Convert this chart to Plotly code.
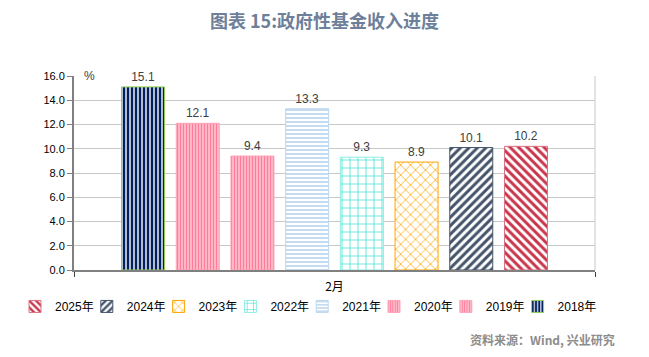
import plotly.graph_objects as go

categories = ["2月"]
years = ["2018年", "2019年", "2020年", "2021年", "2022年", "2023年", "2024年", "2025年"]
values = [15.1, 12.1, 9.4, 13.3, 9.3, 8.9, 10.1, 10.2]
y_ticks = [0, 2, 4, 6, 8, 10, 12, 14, 16]
y_tick_labels = ["0.0", "2.0", "4.0", "6.0", "8.0", "10.0", "12.0", "14.0", "16.0"]

styles = {
    "2018年": dict(fg="#002060", line="#92D050", shape="|", size=4, sol=0.65),
    "2019年": dict(fg="#FF7C99", line="#FFA3B7", shape="|", size=3, sol=0.7),
    "2020年": dict(fg="#FF7C99", line="#FFA3B7", shape="|", size=3, sol=0.7),
    "2021年": dict(fg="#9DC3E6", line="#BDD7EE", shape="-", size=4, sol=0.3),
    "2022年": dict(fg="#40E0D0", line="#8FEDE3", shape="+", size=8, sol=0.18),
    "2023年": dict(fg="#FFA500", line="#FFA500", shape="x", size=7, sol=0.2),
    "2024年": dict(fg="#44546A", line="#44546A", shape="/", size=6, sol=0.5),
    "2025年": dict(fg="#C9364C", line="#D9707F", shape="\\", size=6, sol=0.5),
}

# legend order as in the reference (left to right)
legend_order = list(reversed(years))
legend_ids = {}
for i, yr in enumerate(legend_order):
    legend_ids[yr] = "legend" if i == 0 else f"legend{i + 1}"

fig = go.Figure()
for yr, v in zip(years, values):
    s = styles[yr]
    fig.add_trace(go.Bar(
        x=categories, y=[v], name=yr, legend=legend_ids[yr],
        marker=dict(
            color="white",
            line=dict(color=s["line"], width=1),
            pattern=dict(shape=s["shape"], fgcolor=s["fg"], bgcolor="white",
                         size=s["size"], solidity=s["sol"], fillmode="replace"),
        ),
        text=[f"{v:.1f}"], textposition="outside",
        textfont=dict(size=12, color="#404040", family="Liberation Sans"),
        cliponaxis=False,
    ))

plot_left, plot_w = 74, 521
legend_layout = {}
for i, yr in enumerate(legend_order):
    text_x = 54 + 71.8 * i
    legend_layout[legend_ids[yr]] = dict(
        orientation="h", x=(text_x - 39 - plot_left) / plot_w, xanchor="left",
        y=-0.113, yanchor="top",
        font=dict(size=12, family="Liberation Sans, Noto Sans CJK SC", color="#000000"),
        bgcolor="rgba(0,0,0,0)",
    )

fig.update_layout(
    width=649, height=357,
    margin=dict(l=74, r=54, t=76, b=87, autoexpand=False),
    paper_bgcolor="white", plot_bgcolor="white",
    barmode="group", bargap=0.16, bargroupgap=0.214,
    font=dict(family="Liberation Sans, Noto Sans CJK SC", color="#000000"),
    title=dict(text="<b>图表 15:政府性基金收入进度</b>", x=0.5, xanchor="center",
               y=0.94, yanchor="middle",
               font=dict(size=18, color="#6E7F99", family="Noto Sans CJK SC")),
    showlegend=True,
    xaxis=dict(
        showgrid=False, showline=True, linecolor="#808080", linewidth=2,
        ticks="outside", tickson="boundaries", ticklen=5, tickcolor="#404040",
        ticklabelstandoff=5,
        tickfont=dict(size=12, family="Noto Sans CJK SC", color="#000000"),
    ),
    yaxis=dict(
        range=[0, 16], tickvals=y_ticks, ticktext=y_tick_labels,
        showgrid=True, gridcolor="#C8C8C8", gridwidth=1,
        showline=True, linecolor="#808080", linewidth=2,
        ticks="outside", ticklen=5, tickcolor="#808080",
        tickfont=dict(size=11, family="Liberation Sans", color="#000000"),
        zeroline=False,
    ),
    shapes=[dict(type="line", xref="paper", yref="paper", x0=1, x1=1, y0=0, y1=1,
                 line=dict(color="#C8C8C8", width=1))],
    annotations=[
        dict(text="%", xref="paper", yref="paper", x=0.03, y=1.0, xanchor="center",
             yanchor="middle", showarrow=False,
             font=dict(size=12, color="#404040", family="Liberation Sans")),
        dict(text="<b>资料来源：Wind, 兴业研究</b>", xref="paper", yref="paper",
             x=1.042, y=-0.36, xanchor="right", yanchor="middle", showarrow=False,
             font=dict(size=12, color="#8C8C8C", family="Noto Sans CJK SC")),
    ],
    **legend_layout,
)

fig.write_html("out.html", config={"displayModeBar": False},
               post_script="document.body.style.margin='0';document.body.style.padding='0';")
